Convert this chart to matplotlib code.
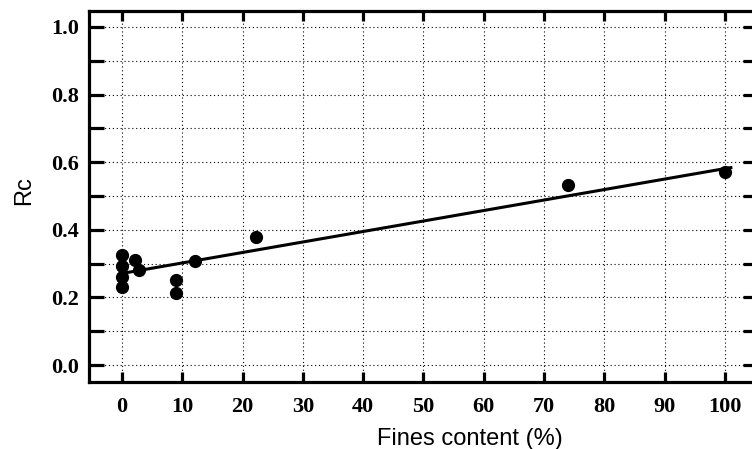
import numpy as np
import matplotlib
matplotlib.use("Agg")
import matplotlib.pyplot as plt
from matplotlib.ticker import MultipleLocator

# measured Rc against fines content
fines = [0, 0, 0, 0, 2.2, 2.9, 9.0, 9.0, 12.1, 22.2, 74.0, 100.0]
rc = [0.325, 0.294, 0.261, 0.232, 0.311, 0.281, 0.251, 0.214, 0.309, 0.378, 0.533, 0.572]

# linear trend line
fit_intercept = 0.271
fit_slope = 0.0031
fit_range = [0, 101]

xticks = list(range(0, 101, 10))
yticks = [0.0, 0.2, 0.4, 0.6, 0.8, 1.0]

fig = plt.figure(figsize=(7.52, 4.49), dpi=100)
# right spine sits just past the image edge
ax = fig.add_axes([89 / 752, 1 - 382 / 449, (758 - 89) / 752, (382 - 11) / 449])

ax.set_xlim(-5.47, 105.5)
ax.set_ylim(-0.050, 1.047)

ax.yaxis.set_minor_locator(MultipleLocator(0.1))
ax.set_xticks(xticks)
ax.set_yticks(yticks)
ax.set_xticklabels([str(t) for t in xticks])
ax.set_yticklabels(["%.1f" % t for t in yticks])

ax.grid(True, which="both", color="black", linestyle=(0, (1, 2.5)), linewidth=0.8)
ax.set_axisbelow(True)

for s in ax.spines.values():
    s.set_linewidth(2.3)

ax.tick_params(axis="both", which="both", direction="in", top=True, right=True,
               width=2.3, color="black")
ax.tick_params(axis="x", length=7, pad=11)
ax.tick_params(axis="y", which="both", length=11, pad=7)

for lab in ax.get_xticklabels() + ax.get_yticklabels():
    lab.set_fontfamily("Liberation Serif")
    lab.set_fontweight("bold")
    lab.set_fontsize(16)

xs = np.array(fit_range, dtype=float)
ax.plot(xs, fit_intercept + fit_slope * xs, color="black", linewidth=2.2, zorder=3)
ax.plot(fines, rc, "o", color="black", markersize=8.5, zorder=4, clip_on=False)

ax.set_xlabel("Fines content (%)", fontfamily="Liberation Sans", fontsize=17)
ax.set_ylabel("Rc", fontfamily="Liberation Sans", fontsize=17)
ax.xaxis.set_label_coords(0.569, -0.125)
ax.yaxis.set_label_coords(-0.08, 0.515)

fig.savefig("out.png", dpi=100)
